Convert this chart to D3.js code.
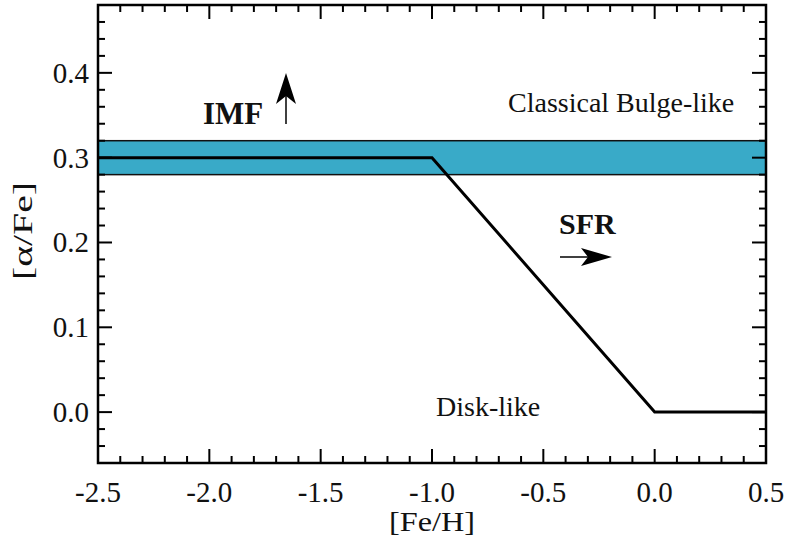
<!DOCTYPE html>
<html>
<head>
<meta charset="utf-8">
<script src="https://cdn.jsdelivr.net/npm/d3@7"></script>
<style>
  html, body { margin: 0; padding: 0; background: #fff; }
  svg { display: block; }
  text { font-family: "Liberation Serif", "DejaVu Serif", serif; fill: #111; }
</style>
</head>
<body>
<svg id="chart" width="785" height="542"></svg>
<script>
// Piecewise [alpha/Fe] track versus [Fe/H]
const trackFeH = [-2.5, -1.0, 0.0, 0.5];
const trackAlpha = [0.3, 0.3, 0.0, 0.0];

// Classical-bulge band in [alpha/Fe]
const bandLow = 0.28;
const bandHigh = 0.32;

const xDomain = [-2.5, 0.5];
const yDomain = [-0.06, 0.48];
const xMajorTicks = [-2.5, -2.0, -1.5, -1.0, -0.5, 0.0, 0.5];
const yMajorTicks = [0.0, 0.1, 0.2, 0.3, 0.4];

const svg = d3.select("#chart");
const margin = { left: 98, right: 19, top: 5, bottom: 79 };
const W = 785, H = 542;
const x = d3.scaleLinear().domain(xDomain).range([margin.left, W - margin.right]);
const y = d3.scaleLinear().domain(yDomain).range([H - margin.bottom, margin.top]);

// Band
svg.append("rect")
  .attr("x", x(xDomain[0])).attr("width", x(xDomain[1]) - x(xDomain[0]))
  .attr("y", y(bandHigh)).attr("height", y(bandLow) - y(bandHigh))
  .attr("fill", "#39aac8").attr("stroke", "#111").attr("stroke-width", 1.5);

// Track
const line = d3.line().x(d => x(d[0])).y(d => y(d[1]));
svg.append("path")
  .datum(trackFeH.map((v, i) => [v, trackAlpha[i]]))
  .attr("d", line).attr("fill", "none").attr("stroke", "#000")
  .attr("stroke-width", 3).attr("stroke-linejoin", "miter");

// Frame
svg.append("rect")
  .attr("x", x(xDomain[0])).attr("y", y(yDomain[1]))
  .attr("width", x(xDomain[1]) - x(xDomain[0]))
  .attr("height", y(yDomain[0]) - y(yDomain[1]))
  .attr("fill", "none").attr("stroke", "#000").attr("stroke-width", 2.5);

// Inward ticks on all four sides
const xMinor = d3.range(-2.5, 0.5001, 0.1).map(v => +v.toFixed(2));
const yMinor = d3.range(-0.06, 0.48001, 0.02).map(v => +v.toFixed(3));
const isMajor = (v, list) => list.some(m => Math.abs(m - v) < 1e-6);
const tickG = svg.append("g").attr("stroke", "#000").attr("stroke-width", 2);
xMinor.forEach(v => {
  const len = isMajor(v, xMajorTicks) ? 14 : 7;
  tickG.append("line").attr("x1", x(v)).attr("x2", x(v)).attr("y1", y(yDomain[0])).attr("y2", y(yDomain[0]) - len);
  tickG.append("line").attr("x1", x(v)).attr("x2", x(v)).attr("y1", y(yDomain[1])).attr("y2", y(yDomain[1]) + len);
});
yMinor.forEach(v => {
  const len = isMajor(v, yMajorTicks) ? 14 : 7;
  tickG.append("line").attr("y1", y(v)).attr("y2", y(v)).attr("x1", x(xDomain[0])).attr("x2", x(xDomain[0]) + len);
  tickG.append("line").attr("y1", y(v)).attr("y2", y(v)).attr("x1", x(xDomain[1])).attr("x2", x(xDomain[1]) - len);
});

// Tick labels
svg.append("g").selectAll("text").data(xMajorTicks).join("text")
  .attr("x", d => x(d)).attr("y", 502).attr("text-anchor", "middle")
  .attr("font-size", 29).text(d => d.toFixed(1));
svg.append("g").selectAll("text").data(yMajorTicks).join("text")
  .attr("x", 89).attr("y", d => y(d) + 10).attr("text-anchor", "end")
  .attr("font-size", 29).text(d => d.toFixed(1));

// Axis titles
svg.append("text").attr("x", 389).attr("y", 531)
  .attr("font-size", 28).attr("textLength", 86).attr("lengthAdjust", "spacingAndGlyphs")
  .text("[Fe/H]");
svg.append("text").attr("transform", "translate(32,280) rotate(-90)")
  .attr("font-size", 28).attr("textLength", 98).attr("lengthAdjust", "spacingAndGlyphs")
  .text("[α/Fe]");

// Annotations
svg.append("text").attr("x", 203).attr("y", 124).attr("font-size", 31)
  .attr("font-weight", "bold").text("IMF");
svg.append("text").attr("x", 508).attr("y", 112).attr("font-size", 28)
  .attr("fill", "#222").text("Classical Bulge-like");
svg.append("text").attr("x", 559).attr("y", 234).attr("font-size", 30)
  .attr("font-weight", "bold").text("SFR");
svg.append("text").attr("x", 436).attr("y", 416).attr("font-size", 28)
  .attr("fill", "#222").text("Disk-like");

// Arrows
const arrowG = svg.append("g");
arrowG.append("line").attr("x1", 286).attr("x2", 286).attr("y1", 124).attr("y2", 90)
  .attr("stroke", "#000").attr("stroke-width", 1.5);
arrowG.append("path").attr("d", "M286,73 L296,104 L286,96 L276,104 Z").attr("fill", "#000");
arrowG.append("line").attr("x1", 560).attr("x2", 595).attr("y1", 257).attr("y2", 257)
  .attr("stroke", "#000").attr("stroke-width", 1.5);
arrowG.append("path").attr("d", "M612,257 L581,248 L588,257 L581,266 Z").attr("fill", "#000");
</script>
</body>
</html>
